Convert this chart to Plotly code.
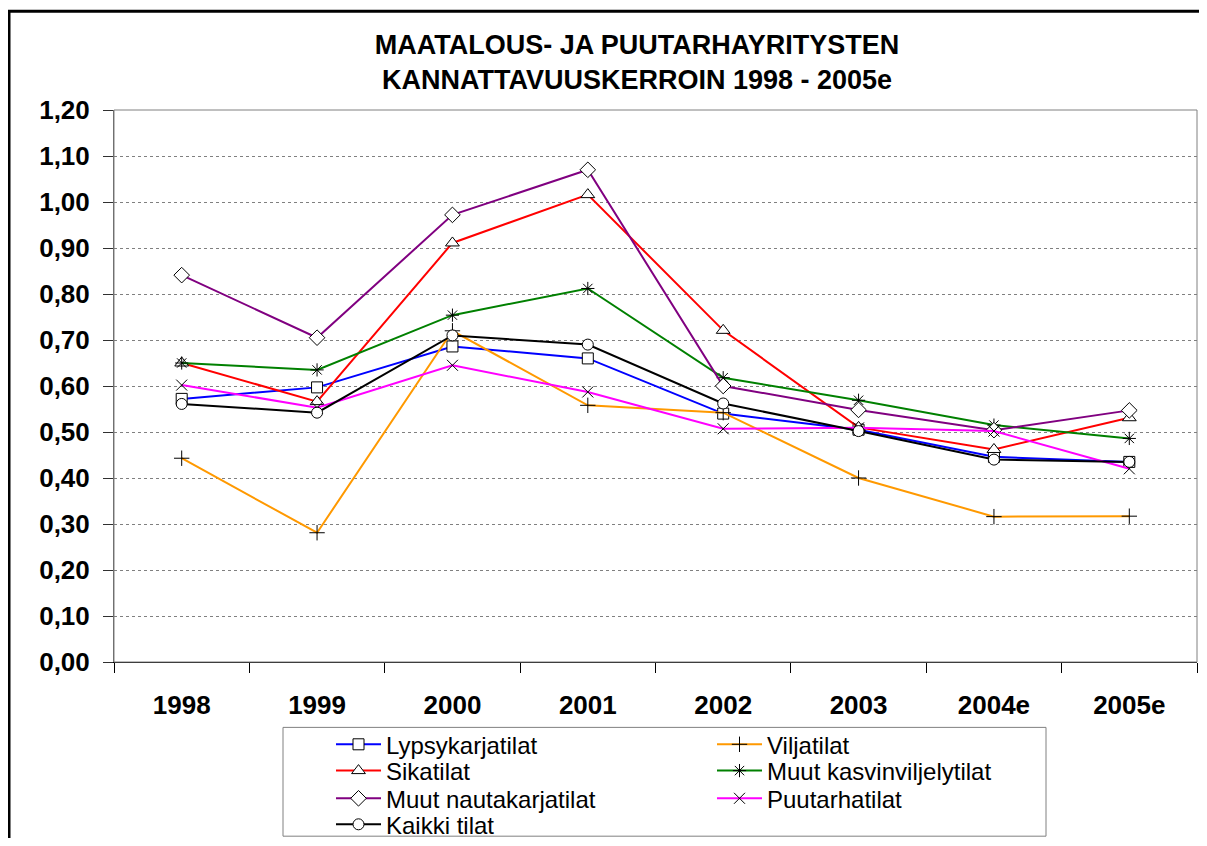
import plotly.graph_objects as go

years = ["1998", "1999", "2000", "2001", "2002", "2003", "2004e", "2005e"]

lypsykarjatilat = [0.572, 0.597, 0.686, 0.660, 0.540, 0.505, 0.446, 0.435]
viljatilat = [0.443, 0.281, 0.720, 0.558, 0.542, 0.400, 0.316, 0.317]
sikatilat = [0.650, 0.566, 0.911, 1.016, 0.721, 0.510, 0.462, 0.531]
muut_kasvinviljelytilat = [0.650, 0.635, 0.754, 0.812, 0.618, 0.569, 0.515, 0.486]
muut_nautakarjatilat = [0.841, 0.705, 0.972, 1.070, 0.600, 0.548, 0.504, 0.547]
puutarhatilat = [0.602, 0.553, 0.645, 0.587, 0.507, 0.509, 0.502, 0.420]
kaikki_tilat = [0.561, 0.542, 0.710, 0.690, 0.562, 0.502, 0.440, 0.435]

series_names = ["Lypsykarjatilat", "Viljatilat", "Sikatilat", "Muut kasvinviljelytilat",
                "Muut nautakarjatilat", "Puutarhatilat", "Kaikki tilat"]
series_values = [lypsykarjatilat, viljatilat, sikatilat, muut_kasvinviljelytilat,
                 muut_nautakarjatilat, puutarhatilat, kaikki_tilat]
series_colors = ["#0000FF", "#FF9900", "#FF0000", "#008000", "#800080", "#FF00FF", "#000000"]
series_symbols = ["square", "cross-thin-open", "triangle-up", "asterisk-open",
                  "diamond", "x-thin-open", "circle"]
series_sizes = [11, 11, 12, 11, 12, 11, 11]
# legend row (two entries per row, like the original's two-column key)
series_legend = ["legend", "legend", "legend2", "legend2", "legend3", "legend3", "legend4"]

title_text = "MAATALOUS- JA PUUTARHAYRITYSTEN<br>KANNATTAVUUSKERROIN 1998 - 2005e"

FONT = "Liberation Sans, Arial, sans-serif"

fig = go.Figure()
for name, vals, color, sym, sz, leg in zip(series_names, series_values, series_colors,
                                           series_symbols, series_sizes, series_legend):
    is_open = sym.endswith("open")
    fig.add_trace(go.Scatter(
        x=years, y=vals, name=name, mode="lines+markers", legend=leg,
        line=dict(color=color, width=2),
        marker=dict(symbol=sym, size=sz,
                    color="black" if is_open else "white",
                    line=dict(color="black", width=1)),
    ))

# figure is offset by the page's 8px body margin, so it is 16px smaller than the window
W, H = 1191, 830
ml, mr, mt, mb = 106, 2, 102, 175
pw, ph = W - ml - mr, H - mt - mb


def px_x(p):
    return (p - ml) / pw


def px_y(p):
    return (H - mb - p) / ph


shapes = [
    # plot area border (top/right gray)
    dict(type="rect", xref="paper", yref="paper", x0=0, x1=1, y0=0, y1=1,
         line=dict(color="#808080", width=1), layer="above"),
    # legend frame
    dict(type="rect", xref="paper", yref="paper", x0=px_x(275), x1=px_x(1038),
         y0=px_y(829.5), y1=px_y(720.5), line=dict(color="#808080", width=1),
         fillcolor="rgba(0,0,0,0)"),
    # outer chart border (left & top visible)
    dict(type="line", xref="paper", yref="paper", x0=px_x(1), x1=px_x(1),
         y0=px_y(3), y1=px_y(900), line=dict(color="black", width=3)),
    dict(type="line", xref="paper", yref="paper", x0=px_x(0), x1=px_x(1300),
         y0=px_y(3), y1=px_y(3), line=dict(color="black", width=3)),
]


def legend_row(center_y):
    return dict(orientation="h", xref="container", yref="container",
                x=323 / W, xanchor="left", y=1 - center_y / H, yanchor="middle",
                itemwidth=45, entrywidth=321, entrywidthmode="pixels",
                font=dict(family=FONT, size=24, color="black"),
                bgcolor="rgba(0,0,0,0)", borderwidth=0, traceorder="normal")


fig.update_layout(
    width=W, height=H,
    margin=dict(l=ml, r=mr, t=mt, b=mb, pad=0),
    paper_bgcolor="white", plot_bgcolor="white",
    separators=", ",
    font=dict(family=FONT, color="black"),
    title=dict(text="<b>" + title_text + "</b>", x=629 / W, xanchor="center",
               xref="container", yref="container", y=1 - 46 / H, yanchor="top",
               font=dict(family=FONT, size=27, color="black")),
    showlegend=True,
    legend=legend_row(736.7),
    legend2=legend_row(763.0),
    legend3=legend_row(790.7),
    legend4=legend_row(816.7),
    shapes=shapes,
)

fig.update_xaxes(
    type="category", showgrid=False, showline=True, linecolor="black", linewidth=1,
    ticks="outside", tickson="boundaries", ticklen=10, tickcolor="black",
    tickfont=dict(family=FONT, size=26, color="black"),
    tickprefix="<b>", ticksuffix="</b>", ticklabelstandoff=20,
    range=[-0.5, 7.5], zeroline=False,
)
fig.update_yaxes(
    range=[0, 1.2], dtick=0.1, tick0=0, tickformat=".2f",
    showgrid=True, gridcolor="#808080", gridwidth=1, griddash="3px,3px",
    showline=True, linecolor="#606060", linewidth=1,
    ticks="outside", ticklen=10, tickcolor="#303030",
    tickfont=dict(family=FONT, size=26, color="black"),
    tickprefix="<b>", ticksuffix="</b>", ticklabelstandoff=8,
    zeroline=False,
)

fig.write_html("out.html")
